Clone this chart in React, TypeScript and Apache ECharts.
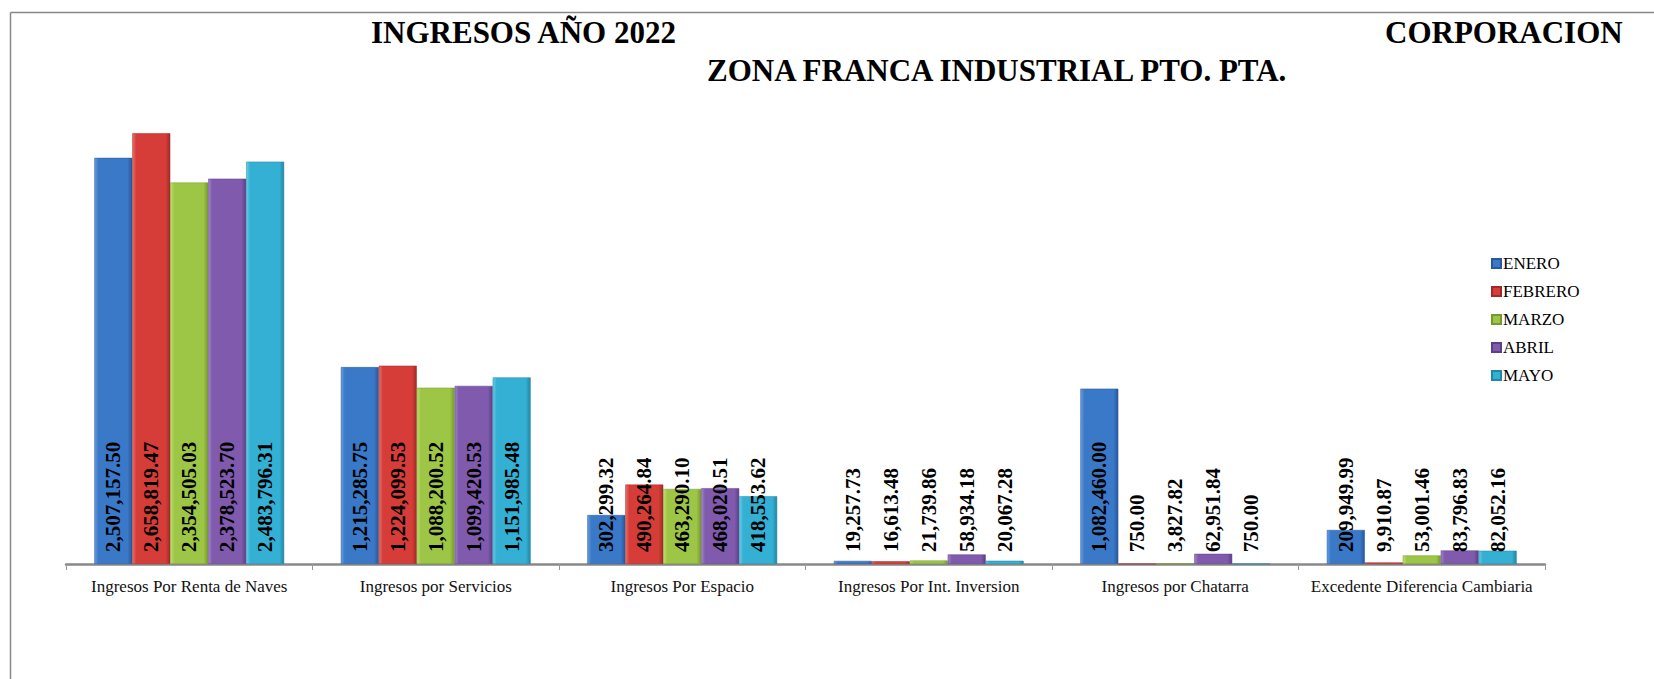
import React, { useEffect, useRef } from "react";
import * as echarts from "echarts";

const categories = [
  "Ingresos Por Renta de Naves",
  "Ingresos por Servicios",
  "Ingresos Por Espacio",
  "Ingresos Por Int. Inversion",
  "Ingresos por Chatarra",
  "Excedente Diferencia Cambiaria",
];

const months = ["ENERO", "FEBRERO", "MARZO", "ABRIL", "MAYO"];

const enero = [2507157.5, 1215285.75, 302299.32, 19257.73, 1082460.0, 209949.99];
const febrero = [2658819.47, 1224099.53, 490264.84, 16613.48, 750.0, 9910.87];
const marzo = [2354505.03, 1088200.52, 463290.1, 21739.86, 3827.82, 53001.46];
const abril = [2378523.7, 1099420.53, 468020.51, 58934.18, 62951.84, 83796.83];
const mayo = [2483796.31, 1151985.48, 418553.62, 20067.28, 750.0, 82052.16];

const seriesValues = [enero, febrero, marzo, abril, mayo];

const palette = [
  { main: "#3a78c8", light: "#6a9fe0", dark: "#28579a" },
  { main: "#d63d38", light: "#e8706b", dark: "#a02a27" },
  { main: "#9dc646", light: "#bfe06e", dark: "#759a2c" },
  { main: "#7f5aad", light: "#a283cc", dark: "#5d3f85" },
  { main: "#33b0d3", light: "#66cde8", dark: "#2386a3" },
];

const fmt = (v: number) =>
  v.toLocaleString("en-US", { minimumFractionDigits: 2, maximumFractionDigits: 2 });

const FONT = "'Liberation Serif', 'Times New Roman', serif";

export default function App() {
  const ref = useRef<HTMLDivElement>(null);
  useEffect(() => {
    if (!ref.current) return;
    const chart = echarts.init(ref.current, undefined, { renderer: "svg" });
    chart.setOption({
      animation: false,
      backgroundColor: "#ffffff",
      textStyle: { fontFamily: FONT },
      grid: { left: 66, right: 109, top: 78, bottom: 115, containLabel: false },
      legend: {
        orient: "vertical",
        left: 1486,
        top: 250,
        itemWidth: 9,
        itemHeight: 9,
        itemGap: 11,
        icon: "rect",
        data: months,
        textStyle: { fontFamily: FONT, fontSize: 17, color: "#000", lineHeight: 17, padding: [0, 0, 0, -3] },
      },
      xAxis: {
        type: "category",
        data: categories,
        axisLine: { show: true, lineStyle: { color: "#888", width: 2.5 } },
        axisTick: { show: true, length: 6, lineStyle: { color: "#999", width: 1 } },
        axisLabel: { fontFamily: FONT, fontSize: 17, color: "#111", margin: 14, interval: 0 },
      },
      yAxis: {
        type: "value",
        min: 0,
        max: 3000000,
        show: false,
        splitLine: { show: false },
      },
      series: seriesValues.map((vals, i) => ({
        name: months[i],
        type: "bar",
        data: vals,
        barGap: "0%",
        barCategoryGap: "23%",
        itemStyle: {
          color: new echarts.graphic.LinearGradient(0, 0, 1, 0, [
            { offset: 0, color: palette[i].light },
            { offset: 0.1, color: palette[i].main },
            { offset: 0.88, color: palette[i].main },
            { offset: 1, color: palette[i].dark },
          ]),
          borderColor: palette[i].dark,
          borderWidth: 0.5,
        },
        label: {
          show: true,
          position: "insideBottom",
          distance: 12,
          rotate: 90,
          align: "left",
          verticalAlign: "middle",
          fontFamily: FONT,
          fontSize: 21,
          fontWeight: "bold",
          color: "#000",
          formatter: (p: any) => fmt(p.value),
        },
      })),
      graphic: [
        {
          type: "line",
          shape: { x1: 10.5, y1: 12.5, x2: 1654, y2: 12.5 },
          style: { stroke: "#888", lineWidth: 1.5 },
        },
        {
          type: "line",
          shape: { x1: 10.5, y1: 12.5, x2: 10.5, y2: 679 },
          style: { stroke: "#888", lineWidth: 1.5 },
        },
        {
          type: "text",
          x: 371,
          y: 32,
          style: {
            text: "INGRESOS AÑO 2022",
            font: `bold 31px ${FONT}`,
            fill: "#000",
            textAlign: "left",
            textVerticalAlign: "middle",
          },
        },
        {
          type: "text",
          x: 1385,
          y: 32,
          style: {
            text: "CORPORACION",
            font: `bold 31px ${FONT}`,
            fill: "#000",
            textAlign: "left",
            textVerticalAlign: "middle",
          },
        },
        {
          type: "text",
          x: 707,
          y: 70,
          style: {
            text: "ZONA FRANCA INDUSTRIAL PTO. PTA.",
            font: `bold 31px ${FONT}`,
            fill: "#000",
            textAlign: "left",
            textVerticalAlign: "middle",
          },
        },
      ],
    });
    return () => chart.dispose();
  }, []);
  return (
    <div
      ref={ref}
      style={{ position: "absolute", left: 0, top: 0, width: 1654, height: 679 }}
    />
  );
}
